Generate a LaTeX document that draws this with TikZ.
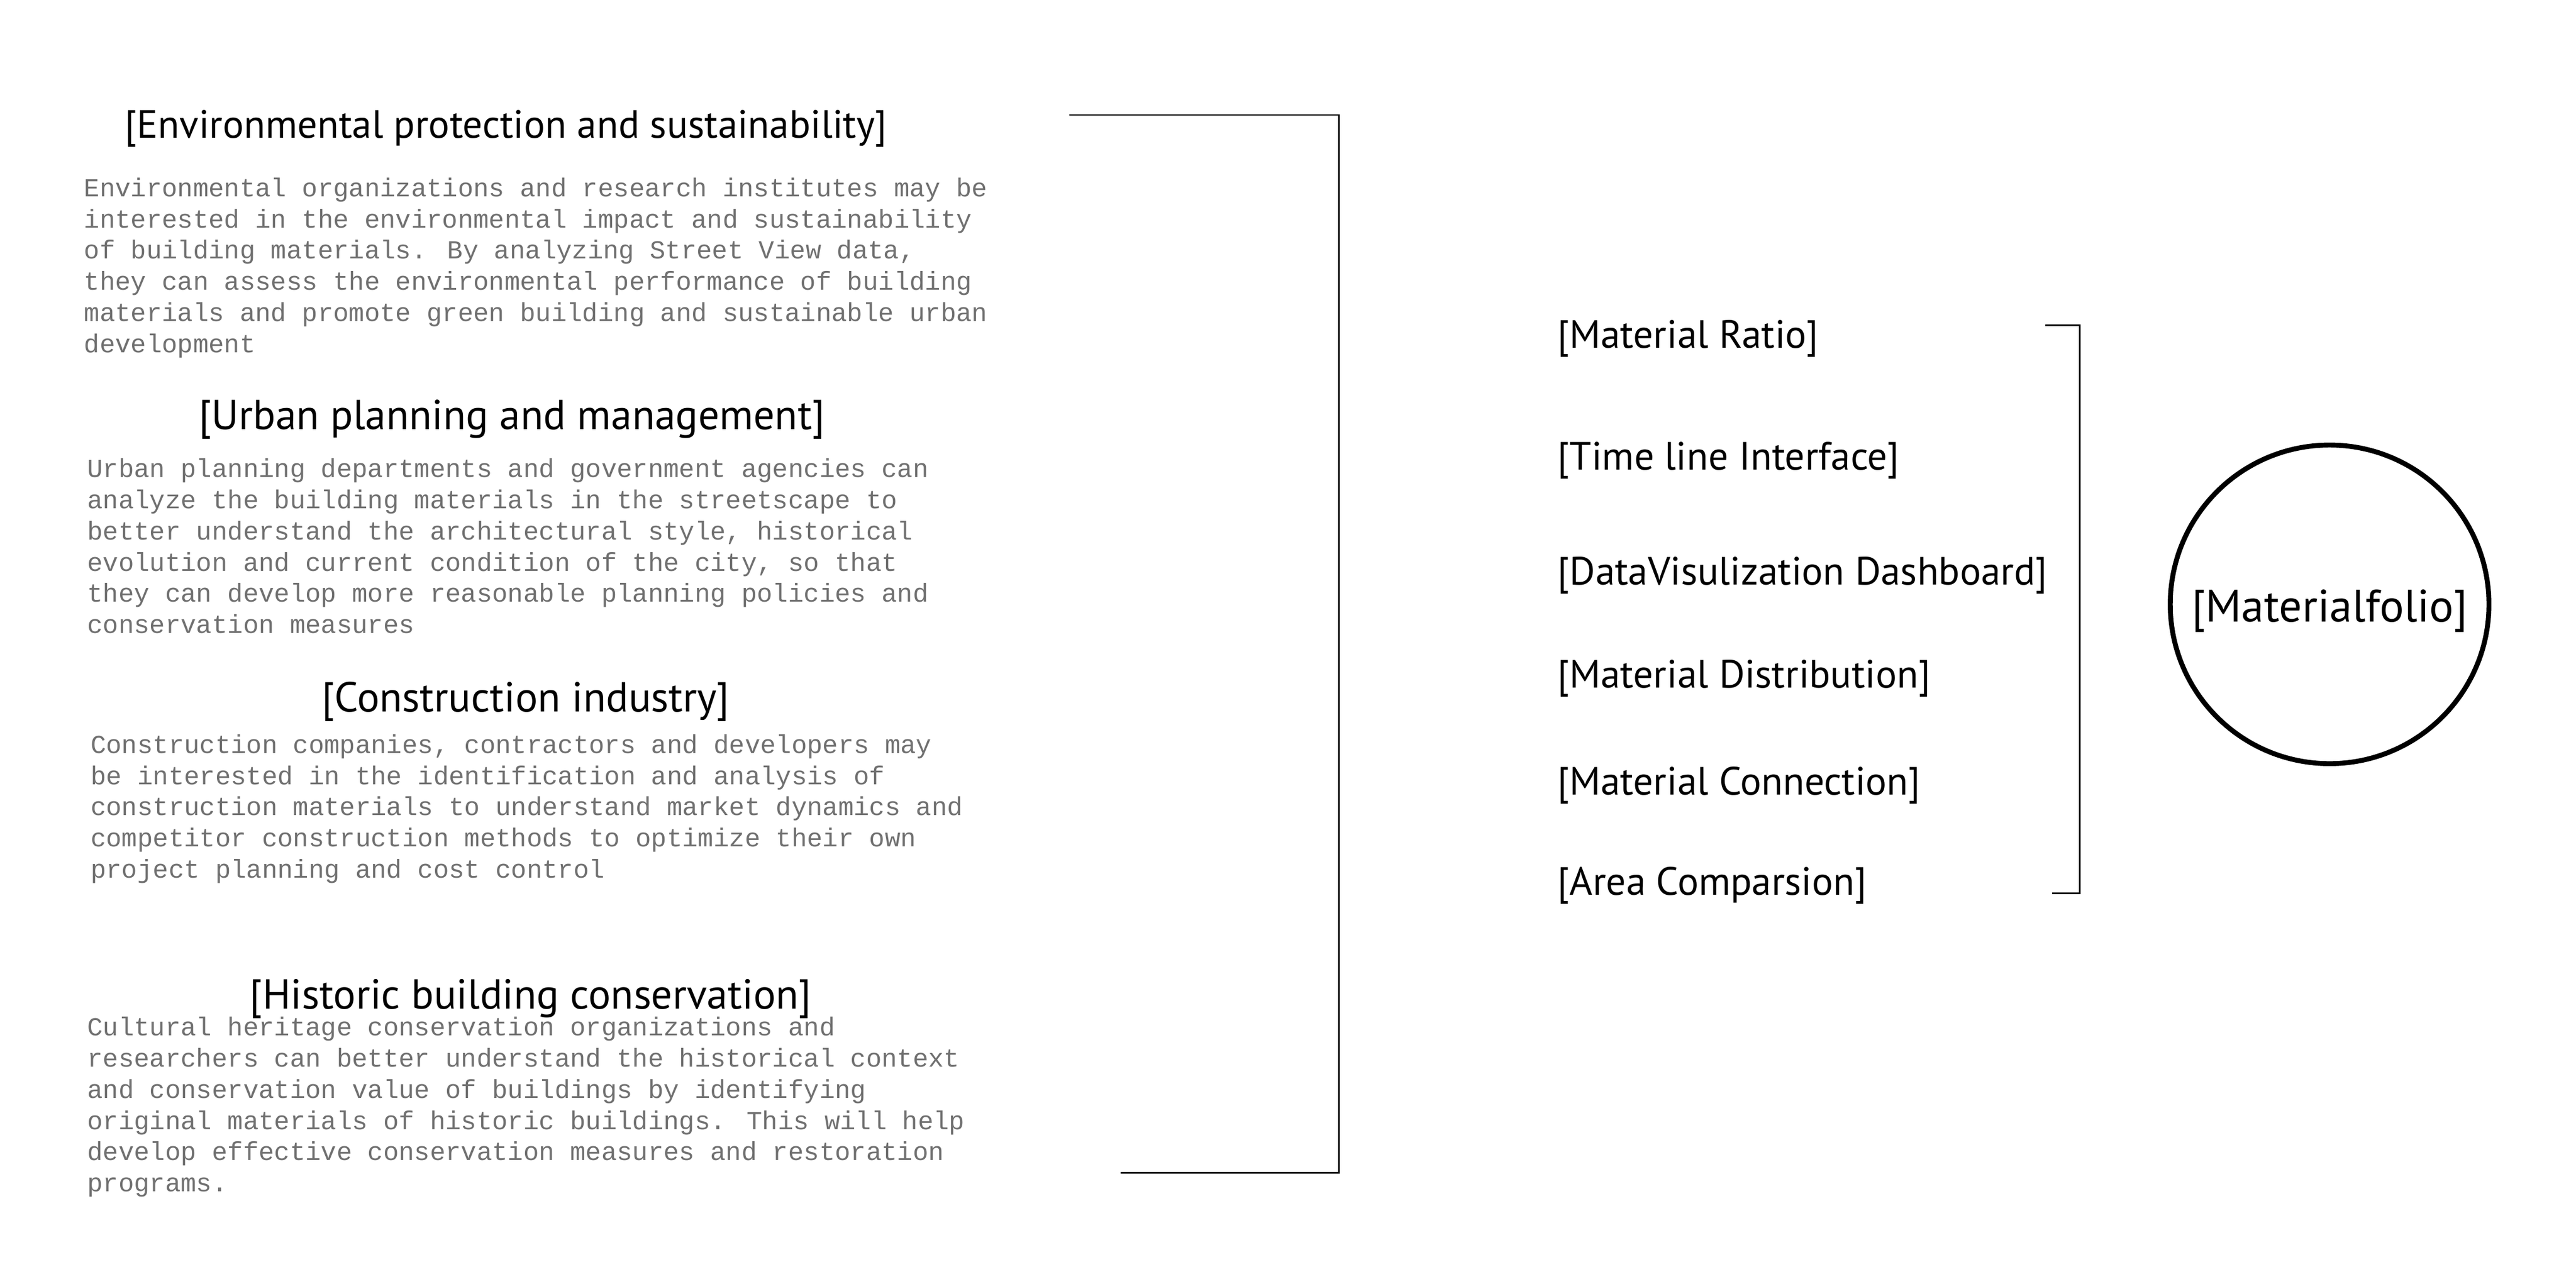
\documentclass[tikz,border=0pt]{standalone}
\usepackage{fontspec}
\setmainfont{PT Sans}
\newfontfamily\bodymono{Liberation Mono}
\definecolor{bodygray}{RGB}{112,112,112}
\begin{document}
\begin{tikzpicture}[x=1pt,y=-1pt,
  head/.style={anchor=base, inner sep=0pt, font=\fontsize{25.5}{30}\selectfont},
  para/.style={anchor=north west, inner sep=0pt, align=left, text=bodygray,
    font=\bodymono\fontsize{15.8}{19}\selectfont},
  item/.style={anchor=base west, inner sep=0pt, font=\fontsize{24}{28}\selectfont},
  brace/.style={line width=1pt}]
\useasboundingbox (0,0) rectangle (1568,771.2);
% headings
\node[head, font=\fontsize{24}{28}\selectfont] (h1) at (308,84) {[Environmental protection and sustainability]};
\node[head] (h2) at (311.5,261.5) {[Urban planning and management]};
\node[head] (h3) at (320,433.5) {[Construction industry]};
\node[head] (h4) at (323,614.5) {[Historic building conservation]};
% paragraphs
\node[para] (p1) at (51,108) {Environmental organizations and research institutes may be\\
interested in the environmental impact and sustainability\\
of building materials. By analyzing Street View data,\\
they can assess the environmental performance of building\\
materials and promote green building and sustainable urban\\
development};
\node[para] (p2) at (53,279) {Urban planning departments and government agencies can\\
analyze the building materials in the streetscape to\\
better understand the architectural style, historical\\
evolution and current condition of the city, so that\\
they can develop more reasonable planning policies and\\
conservation measures};
\node[para] (p3) at (55,447) {Construction companies, contractors and developers may\\
be interested in the identification and analysis of\\
construction materials to understand market dynamics and\\
competitor construction methods to optimize their own\\
project planning and cost control};
\node[para] (p4) at (53,619) {Cultural heritage conservation organizations and\\
researchers can better understand the historical context\\
and conservation value of buildings by identifying\\
original materials of historic buildings. This will help\\
develop effective conservation measures and restoration\\
programs.};
% left bracket
\coordinate (lt) at (651,70);
\coordinate (lb) at (682,714);
\draw[brace] (lt) -- (815,70) -- (815,714) -- (lb);
% items
\node[item] (i1) at (948,212) {[Material Ratio]};
\node[item] (i2) at (948,286) {[Time line Interface]};
\node[item] (i3) at (948,356) {[DataVisulization Dashboard]};
\node[item] (i4) at (948,419) {[Material Distribution]};
\node[item] (i5) at (948,484) {[Material Connection]};
\node[item] (i6) at (948,545) {[Area Comparsion]};
% right bracket
\coordinate (rt) at (1245,198);
\coordinate (rb) at (1249,544);
\draw[brace] (rt) -- (1266,198) -- (1266,544) -- (rb);
% circle
\node[circle, draw, line width=3pt, minimum size=194pt, inner sep=0pt] (mf) at (1418,368) {};
\node[inner sep=0pt, font=\fontsize{27.7}{32}\selectfont, yshift=-4pt] (mft) at (mf.center) {[Materialfolio]};
\end{tikzpicture}
\end{document}
